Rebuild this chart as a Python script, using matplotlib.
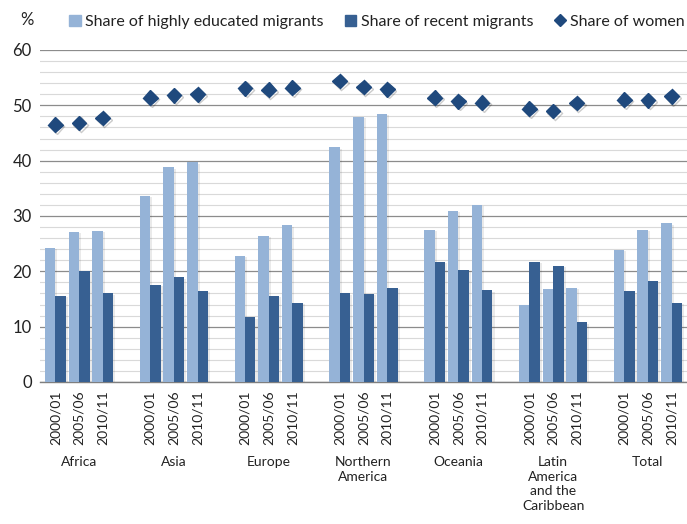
import matplotlib
matplotlib.use("Agg")
import matplotlib.pyplot as plt
import matplotlib.patheffects as pe
from matplotlib.lines import Line2D
from matplotlib.patches import Patch
import numpy as np

plt.rcParams['font.family'] = ['Lato', 'DejaVu Sans']

regions = ["Africa", "Asia", "Europe", "Northern\nAmerica", "Oceania",
           "Latin\nAmerica\nand the\nCaribbean", "Total"]
years = ["2000/01", "2005/06", "2010/11"]

highly_educated = [
    [24.2, 27.1, 27.3],
    [33.7, 38.8, 39.7],
    [22.8, 26.4, 28.3],
    [42.4, 47.9, 48.5],
    [27.5, 30.9, 32.0],
    [14.0, 16.8, 17.0],
    [23.9, 27.5, 28.7],
]
recent = [
    [15.6, 20.0, 16.0],
    [17.6, 18.9, 16.5],
    [11.7, 15.6, 14.3],
    [16.0, 15.9, 17.0],
    [21.7, 20.3, 16.6],
    [21.7, 21.0, 10.8],
    [16.4, 18.3, 14.3],
]
women = [
    [46.5, 46.8, 47.7],
    [51.4, 51.8, 52.0],
    [53.1, 52.8, 53.2],
    [54.4, 53.3, 52.9],
    [51.4, 50.7, 50.5],
    [49.4, 49.0, 50.4],
    [51.0, 50.9, 51.6],
]

light = "#95B3D7"
dark = "#376092"
navy = "#1F497D"

fig = plt.figure(figsize=(6.87, 5.24), dpi=100)
ax = fig.add_axes([40/687, 1-382/524, 647/687, 332/524])

xs = []
xlabels = []
for g in range(len(regions)):
    for j in range(len(years)):
        xs.append(g*4 + j)
        xlabels.append(years[j])
xs = np.array(xs, dtype=float)
he = np.array(highly_educated).ravel()
rc = np.array(recent).ravel()
wm = np.array(women).ravel()

w = 0.44
shadow = [pe.SimplePatchShadow(offset=(1.5, -1), alpha=0.1, shadow_rgbFace='#333333'), pe.Normal()]
b1 = ax.bar(xs - w/2, he, width=w, color=light, zorder=3)
b2 = ax.bar(xs + w/2, rc, width=w, color=dark, zorder=3)
for b in list(b1) + list(b2):
    b.set_path_effects(shadow)
ax.plot(xs, wm, linestyle='none', marker='D', ms=7.5, color=navy, zorder=4,
        path_effects=[pe.SimpleLineShadow(offset=(1.2, -1.2), alpha=0.2), pe.Normal()])

ax.set_ylim(0, 60)
ax.set_xlim(-0.65, 26.65)
ax.set_yticks(np.arange(0, 61, 10))
ax.set_yticks(np.arange(0, 61, 2), minor=True)
ax.grid(axis='y', which='major', color='#8c8c8c', linewidth=0.9, zorder=0)
ax.grid(axis='y', which='minor', color='#d9d9d9', linewidth=0.8, zorder=0)
for s in ['left', 'right', 'top']:
    ax.spines[s].set_visible(False)
ax.spines['bottom'].set_color('#7f7f7f')
ax.spines['bottom'].set_linewidth(1.0)
ax.tick_params(axis='y', which='both', length=0, labelsize=12, colors='#222222', pad=6)
ax.set_xticks(xs)
ax.set_xticklabels(xlabels, rotation=90, fontsize=10, color='#222222')
ax.tick_params(axis='x', length=0, pad=6)

trans = ax.get_xaxis_transform()
for g, name in enumerate(regions):
    ax.text(g*4 + 1, -0.224, name, transform=trans, ha='center', va='top',
            fontsize=10, color='#222222', linespacing=1.25)

fig.text(20/687, 1-20/524, "%", fontsize=12, ha='left', va='center', color='#222222')

handles = [Patch(color=light), Patch(color=dark),
           Line2D([], [], linestyle='none', marker='D', ms=6, color=navy)]
labels = ["Share of highly educated migrants", "Share of recent migrants", "Share of women"]
fig.legend(handles, labels, loc='center', bbox_to_anchor=(377/687, 1-22/524), ncol=3,
           frameon=False, fontsize=11.5, handlelength=0.7, handleheight=0.7,
           handletextpad=0.3, columnspacing=1.3, labelcolor='#222222')

fig.savefig("out.png", dpi=100)
